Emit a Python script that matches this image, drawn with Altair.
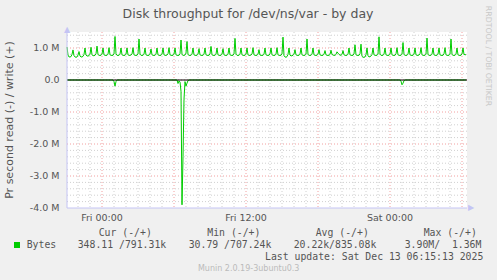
import altair as alt
import pandas as pd

TITLE = "Disk throughput for /dev/ns/var - by day"
Y_TITLE = "Pr second read (-) / write (+)"

# time in minutes relative to Fri 00:00, one sample every 5 minutes from Thu 21:05
START_MIN = -175
STEP_MIN = 5
X_DOMAIN = [-175, 1825]
Y_DOMAIN = [-4.0, 1.5]

# write (+) bytes per second, in millions; one row = 30 minutes (6 samples)
write_rows = [
    [1.03, 0.78, 0.72, 0.72, 0.73, 0.80],
    [0.94, 0.76, 0.72, 0.71, 0.72, 0.78],
    [0.89, 0.75, 0.72, 0.72, 0.74, 0.80],
    [1.00, 0.78, 0.75, 0.75, 0.76, 0.81],
    [1.02, 0.79, 0.76, 0.76, 0.77, 0.82],
    [1.06, 0.80, 0.77, 0.77, 0.77, 0.81],
    [1.00, 0.79, 0.77, 0.77, 0.77, 0.81],
    [1.01, 0.79, 0.77, 0.77, 0.77, 0.82],
    [1.36, 0.82, 0.77, 0.77, 0.77, 0.81],
    [1.00, 0.79, 0.77, 0.77, 0.77, 0.81],
    [1.00, 0.79, 0.77, 0.77, 0.78, 0.81],
    [1.01, 0.79, 0.77, 0.77, 0.77, 0.82],
    [1.28, 0.81, 0.77, 0.77, 0.77, 0.81],
    [1.00, 0.79, 0.77, 0.77, 0.77, 0.81],
    [0.97, 0.79, 0.77, 0.77, 0.77, 0.81],
    [1.00, 0.79, 0.77, 0.77, 0.77, 0.81],
    [1.00, 0.79, 0.77, 0.77, 0.78, 0.82],
    [1.01, 0.79, 0.77, 0.77, 0.77, 0.81],
    [1.00, 0.79, 0.77, 0.77, 0.77, 0.82],
    [1.25, 0.80, 0.77, 0.77, 0.78, 0.84],
    [1.20, 0.80, 0.77, 0.77, 0.77, 0.81],
    [1.00, 0.79, 0.77, 0.77, 0.77, 0.81],
    [0.98, 0.79, 0.77, 0.77, 0.77, 0.81],
    [1.00, 0.79, 0.77, 0.77, 0.77, 0.82],
    [1.05, 0.79, 0.77, 0.77, 0.77, 0.81],
    [1.00, 0.79, 0.77, 0.77, 0.77, 0.81],
    [0.98, 0.79, 0.77, 0.77, 0.77, 0.81],
    [1.00, 0.79, 0.77, 0.77, 0.77, 0.82],
    [1.30, 0.81, 0.77, 0.77, 0.77, 0.81],
    [1.00, 0.79, 0.77, 0.77, 0.77, 0.81],
    [1.00, 0.79, 0.77, 0.77, 0.78, 0.81],
    [1.01, 0.79, 0.77, 0.77, 0.77, 0.81],
    [0.95, 0.78, 0.77, 0.77, 0.77, 0.81],
    [1.00, 0.79, 0.77, 0.77, 0.77, 0.82],
    [1.00, 0.79, 0.77, 0.77, 0.77, 0.81],
    [1.01, 0.79, 0.77, 0.77, 0.77, 0.82],
    [1.34, 0.76, 0.72, 0.71, 0.73, 0.80],
    [1.00, 0.78, 0.75, 0.76, 0.77, 0.81],
    [0.95, 0.79, 0.77, 0.77, 0.77, 0.81],
    [1.00, 0.79, 0.77, 0.77, 0.77, 0.81],
    [1.28, 0.80, 0.77, 0.77, 0.77, 0.81],
    [1.00, 0.79, 0.77, 0.77, 0.77, 0.81],
    [0.95, 0.79, 0.77, 0.77, 0.77, 0.81],
    [0.92, 0.79, 0.77, 0.77, 0.77, 0.80],
    [0.93, 0.80, 0.78, 0.77, 0.77, 0.80],
    [0.88, 0.84, 0.80, 0.78, 0.77, 0.80],
    [0.92, 0.79, 0.77, 0.77, 0.77, 0.81],
    [1.00, 0.79, 0.77, 0.77, 0.77, 0.82],
    [1.10, 0.79, 0.77, 0.77, 0.77, 0.82],
    [1.12, 0.74, 0.71, 0.71, 0.72, 0.79],
    [1.00, 0.76, 0.72, 0.73, 0.75, 0.80],
    [1.00, 0.79, 0.77, 0.77, 0.77, 0.81],
    [1.35, 0.81, 0.77, 0.77, 0.77, 0.81],
    [1.00, 0.79, 0.77, 0.77, 0.77, 0.81],
    [1.00, 0.79, 0.77, 0.77, 0.77, 0.82],
    [1.01, 0.79, 0.77, 0.77, 0.77, 0.81],
    [1.17, 0.80, 0.77, 0.77, 0.77, 0.81],
    [1.00, 0.79, 0.77, 0.77, 0.77, 0.81],
    [1.00, 0.79, 0.77, 0.77, 0.78, 0.82],
    [1.01, 0.79, 0.77, 0.77, 0.77, 0.81],
    [1.31, 0.80, 0.77, 0.77, 0.77, 0.81],
    [1.00, 0.79, 0.77, 0.77, 0.77, 0.81],
    [1.00, 0.79, 0.77, 0.77, 0.77, 0.82],
    [1.01, 0.79, 0.77, 0.77, 0.77, 0.81],
    [1.28, 0.80, 0.77, 0.77, 0.77, 0.81],
    [1.00, 0.79, 0.77, 0.77, 0.77, 0.82],
    [1.00, 0.80, 0.79, 0.79],
]

# read (-) bytes per second, in millions: sample index -> value (zero elsewhere)
read_idx = [47, 48, 49, 111, 112, 113, 114, 115, 116, 117, 118, 119, 120, 121,
            334, 335, 336, 337]
read_M = [0.05, 0.19, 0.05, 0.11, 0.03, 0.06, 0.35, 3.90, 2.40, 0.60, 0.05, 0.19,
          0.10, 0.02, 0.04, 0.15, 0.10, 0.02]

zero_line = [0]
x_tick_minutes = [0, 720, 1440]
x_tick_labels = ["Fri 00:00", "Fri 12:00", "Sat 00:00"]
y_tick_values = [1, 0, -1, -2, -3, -4]
y_tick_labels = ["1.0 M", "0.0", "-1.0 M", "-2.0 M", "-3.0 M", "-4.0 M"]

legend_headers = ["Cur (-/+)", "Min (-/+)", "Avg (-/+)", "Max (-/+)"]
legend_series = "Bytes"
legend_values = ["348.11 /791.31k", "30.79 /707.24k", "20.22k/835.08k",
                 "3.90M/\u00a0\u00a01.36M"]
last_update = "Last update: Sat Dec 13 06:15:13 2025"
footer = "Munin 2.0.19-3ubuntu0.3"
watermark = "RRDTOOL / TOBI OETIKER"

# ---------------------------------------------------------------- data tables
write_M = [v for row in write_rows for v in row]
read_map = dict(zip(read_idx, read_M))
df = pd.DataFrame({
    "minute": [START_MIN + STEP_MIN * i for i in range(len(write_M))],
    "write": write_M,
    "read": [-read_map.get(i, 0.0) for i in range(len(write_M))],
})

x_all = list(range(-120, X_DOMAIN[1], 60))
x_major = [m for m in x_all if m % 360 == 0]
x_minor = [m for m in x_all if m % 360 != 0]
y_all = [round(-4.0 + 0.2 * k, 1) for k in range(28)]
y_major = [v for v in y_all if abs(v - round(v)) < 1e-6 and v > -4.0]
y_minor = [v for v in y_all if abs(v - round(v)) > 1e-6]

GREEN = "#00cc00"
TEXT_C = "#555555"
AXIS_C = "#c4c4f4"
MINOR_C = "#d0d0d0"
MAJOR_C = "#f2a0a0"
FONT = "DejaVu Sans"
MONO = "DejaVu Sans Mono"

xs = alt.Scale(domain=X_DOMAIN, nice=False, zero=False)
ys = alt.Scale(domain=Y_DOMAIN, nice=False, zero=False)


def X(field):
    return alt.X(field, scale=xs, axis=None)


def Y(field):
    return alt.Y(field, scale=ys, axis=None)


def vrules(values, color, dash=None):
    kw = dict(color=color, strokeWidth=1)
    if dash:
        kw["strokeDash"] = dash
    return alt.Chart(pd.DataFrame({"x": values})).mark_rule(**kw).encode(x=X("x:Q"))


def hrules(values, color, dash=None):
    kw = dict(color=color, strokeWidth=1)
    if dash:
        kw["strokeDash"] = dash
    return alt.Chart(pd.DataFrame({"y": values})).mark_rule(**kw).encode(y=Y("y:Q"))


grid = [
    vrules(x_minor, MINOR_C, [1, 2]),
    hrules(y_minor, MINOR_C, [1, 2]),
    vrules(x_major, MAJOR_C, [1, 2]),
    hrules(y_major, MAJOR_C, [1, 2]),
]

write_line = alt.Chart(df).mark_line(color=GREEN, strokeWidth=1).encode(
    x=X("minute:Q"), y=Y("write:Q"))
read_line = alt.Chart(df).mark_line(color=GREEN, strokeWidth=1).encode(
    x=X("minute:Q"), y=Y("read:Q"))
zero_rule = hrules(zero_line, "black")

axis_left = vrules([X_DOMAIN[0]], AXIS_C)
axis_bottom = hrules([Y_DOMAIN[0]], AXIS_C)

arrow_x = alt.Chart(pd.DataFrame({"x": [X_DOMAIN[1]], "y": [Y_DOMAIN[0]]})).mark_text(
    text="\u25b6", color=AXIS_C, fontSize=8, dx=4, font=FONT
).encode(x=X("x:Q"), y=Y("y:Q"))
arrow_y = alt.Chart(pd.DataFrame({"x": [X_DOMAIN[0]], "y": [Y_DOMAIN[1]]})).mark_text(
    text="\u25b2", color=AXIS_C, fontSize=8, dy=-2, font=FONT
).encode(x=X("x:Q"), y=Y("y:Q"))

x_labels = alt.Chart(pd.DataFrame({
    "x": x_tick_minutes, "lab": x_tick_labels, "y": [Y_DOMAIN[0]] * len(x_tick_minutes)
})).mark_text(font=FONT, fontSize=9.5, color=TEXT_C, baseline="alphabetic",
              align="center", dy=13).encode(x=X("x:Q"), y=Y("y:Q"), text="lab:N")
y_labels = alt.Chart(pd.DataFrame({
    "y": y_tick_values, "lab": y_tick_labels, "x": [X_DOMAIN[0]] * len(y_tick_values)
})).mark_text(font=FONT, fontSize=9.5, color=TEXT_C, baseline="middle",
              align="right", dx=-7.5).encode(x=X("x:Q"), y=Y("y:Q"), text="lab:N")


def label(text, x, y, align="left", font=MONO, size=9.8, color=TEXT_C,
          baseline="alphabetic", angle=0):
    kw = dict(text=text, align=align, font=font, fontSize=size, color=color,
              baseline=baseline)
    if angle:
        kw["angle"] = angle
    return alt.Chart(pd.DataFrame({"a": [0]})).mark_text(**kw).encode(
        x=alt.value(x), y=alt.value(y))


# positions relative to the plot area origin (67, 32)
texts = [
    label(TITLE, 181, -13.7, align="center", font=FONT, size=12.5),
    label(Y_TITLE, -57, 88, align="center", font=FONT, size=11,
          baseline="middle", angle=270),
]
for hdr, xp in zip(legend_headers, [31.7, 140.3, 248.7, 356.7]):
    texts.append(label(hdr, xp, 203.7))
for val, xp in zip(legend_values, [10.7, 121.7, 226.7, 337.7]):
    texts.append(label(val, xp, 216.3))
texts.append(label(legend_series, -40.3, 216.3))
texts.append(label(last_update, 416.3, 228, align="right"))
texts.append(label(footer, 181.7, 239, align="center", font=FONT, size=8, color="#bbbbbb"))
texts.append(label(watermark, 420.5, 24, align="center", font=FONT, size=7.8,
                   color="#c8c8c8", baseline="middle", angle=90))
square = alt.Chart(pd.DataFrame({"a": [0]})).mark_point(
    shape="square", filled=True, size=36, color=GREEN, opacity=1
).encode(x=alt.value(-50), y=alt.value(213))

chart = alt.layer(
    *grid, read_line, write_line, zero_rule, axis_left, axis_bottom,
    arrow_x, arrow_y, x_labels, y_labels, square, *texts
).properties(
    width=400, height=176,
    autosize=alt.AutoSizeParams(type="none"),
    padding={"left": 67, "top": 32, "right": 30, "bottom": 72},
    background="#f0f0f0",
).configure_view(fill="white", stroke=None)

chart.save("out.html", embed_options={"renderer": "svg", "actions": False})
